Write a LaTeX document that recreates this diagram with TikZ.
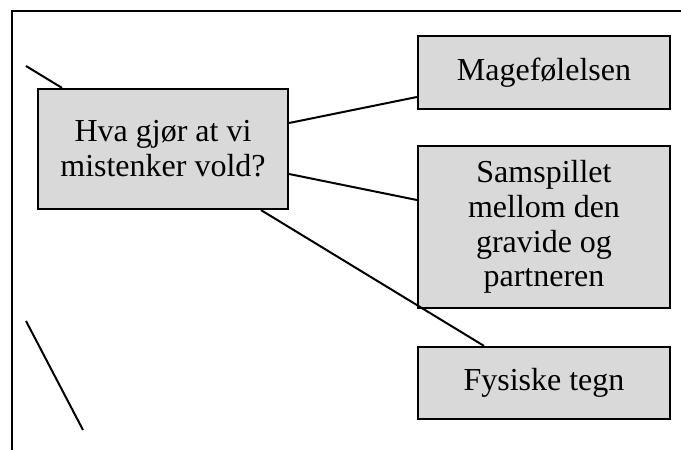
\documentclass[tikz,border=0pt]{standalone}
\usepackage{fontspec}
\setmainfont{Liberation Serif}
\begin{document}
\begin{tikzpicture}[x=1pt,y=-1pt,
  box/.style={draw=black, line width=2.2pt, fill=gray!30, inner sep=0pt,
    align=center, font=\fontsize{32}{34.8}\selectfont},
  link/.style={draw=black, line width=2pt},
  frame/.style={draw=black, line width=2.6pt}]
  \useasboundingbox (0,0) rectangle (681,450);
  % open frame: top and left edges only
  \draw[frame] (681,11) -- (12,11) -- (12,450);
  % boxes
  \node[box, minimum width=250pt, minimum height=120pt] (main) at (163,149)
    {Hva gjør at vi\\mistenker vold?};
  \node[box, minimum width=252pt, minimum height=73pt] (mage) at (544,72.5)
    {Magefølelsen};
  \node[box, minimum width=252pt, minimum height=162pt] (samspill) at (544,227)
    {Samspillet\\mellom den\\gravide og\\partneren};
  \node[box, minimum width=252pt, minimum height=72pt] (fysisk) at (544,383)
    {Fysiske tegn};
  % free line ends
  \coordinate (tl) at (26,66);
  \coordinate (bla) at (26,321);
  \coordinate (blb) at (83,430);
  % connectors
  \draw[link] (tl) -- ([xshift=-101pt]main.north);
  \draw[link] ([yshift=26pt]main.east) -- ([yshift=-24.5pt]mage.west);
  \draw[link] ([yshift=-25pt]main.east) -- ([yshift=27pt]samspill.west);
  \draw[link] ([xshift=98pt]main.south) -- ([xshift=-60pt]fysisk.north);
  \draw[link] (bla) -- (blb);
\end{tikzpicture}
\end{document}
